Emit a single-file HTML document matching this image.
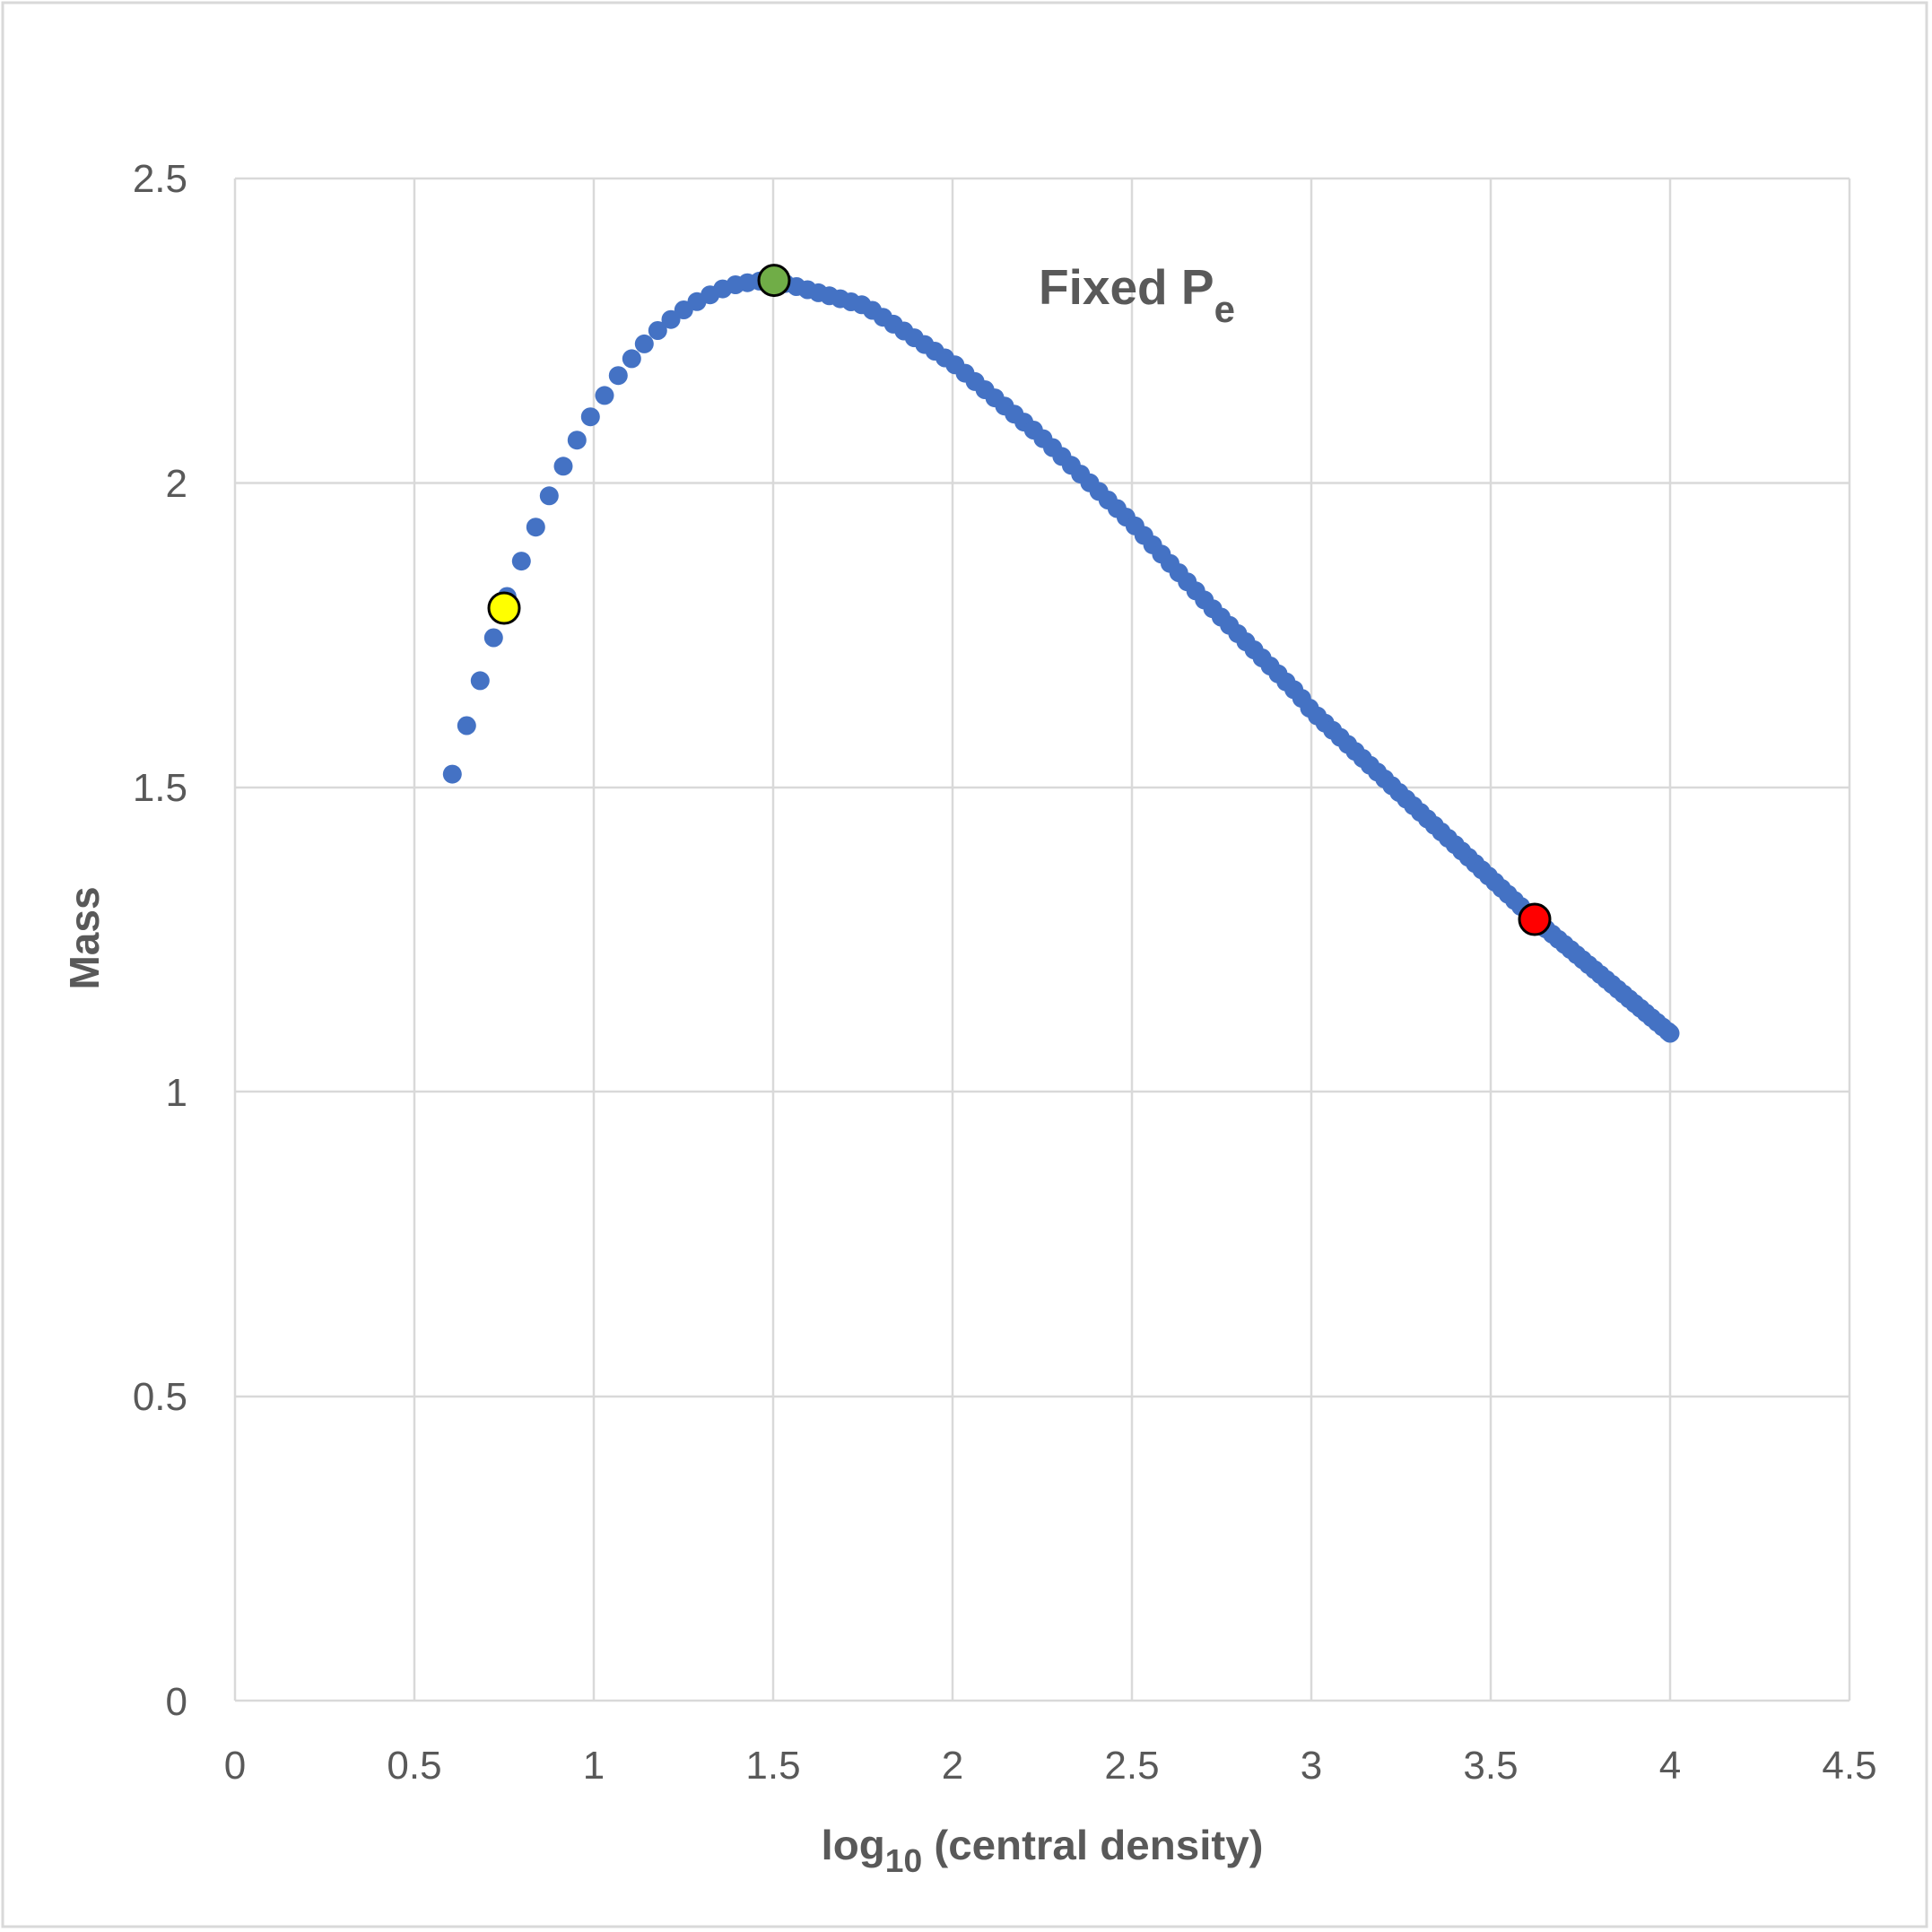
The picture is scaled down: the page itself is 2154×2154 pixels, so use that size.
<!DOCTYPE html>
<html><head><meta charset="utf-8"><style>
html,body{margin:0;padding:0;background:#fff;}
svg{display:block;}
text{font-family:"Liberation Sans",sans-serif;fill:#595959;}
</style></head><body>
<svg id="s" width="2154" height="2154" viewBox="0 0 2154 2154" xmlns="http://www.w3.org/2000/svg">
<rect x="3" y="3" width="2145" height="2145" fill="#fff" stroke="#d9d9d9" stroke-width="3"/>
<g stroke="#d9d9d9" stroke-width="2.5">
<line x1="262" y1="199" x2="2062" y2="199"/>
<line x1="262" y1="538.5" x2="2062" y2="538.5"/>
<line x1="262" y1="878" x2="2062" y2="878"/>
<line x1="262" y1="1217" x2="2062" y2="1217"/>
<line x1="262" y1="1557" x2="2062" y2="1557"/>
<line x1="262" y1="1896" x2="2062" y2="1896"/>
<line x1="262" y1="199" x2="262" y2="1896"/>
<line x1="462" y1="199" x2="462" y2="1896"/>
<line x1="662" y1="199" x2="662" y2="1896"/>
<line x1="862" y1="199" x2="862" y2="1896"/>
<line x1="1062" y1="199" x2="1062" y2="1896"/>
<line x1="1262" y1="199" x2="1262" y2="1896"/>
<line x1="1462" y1="199" x2="1462" y2="1896"/>
<line x1="1662" y1="199" x2="1662" y2="1896"/>
<line x1="1862" y1="199" x2="1862" y2="1896"/>
<line x1="2062" y1="199" x2="2062" y2="1896"/>
</g>
<g font-size="44" text-anchor="end">
<text x="209" y="214">2.5</text>
<text x="209" y="554">2</text>
<text x="209" y="893">1.5</text>
<text x="209" y="1233">1</text>
<text x="209" y="1572">0.5</text>
<text x="209" y="1912">0</text>
</g>
<g font-size="44" text-anchor="middle">
<text x="262" y="1983">0</text>
<text x="462" y="1983">0.5</text>
<text x="662" y="1983">1</text>
<text x="862" y="1983">1.5</text>
<text x="1062" y="1983">2</text>
<text x="1262" y="1983">2.5</text>
<text x="1462" y="1983">3</text>
<text x="1662" y="1983">3.5</text>
<text x="1862" y="1983">4</text>
<text x="2062" y="1983">4.5</text>
</g>
<text x="1162" y="2073" font-size="46" font-weight="bold" text-anchor="middle" textLength="493" lengthAdjust="spacingAndGlyphs">log<tspan font-size="36" dy="14">10</tspan><tspan dy="-14"> (central density)</tspan></text>
<text transform="translate(110,1046) rotate(-90)" font-size="46" font-weight="bold" text-anchor="middle">Mass</text>
<text x="1158" y="339" font-size="55" font-weight="bold">Fixed P<tspan font-size="42" dy="20">e</tspan></text>
<g id="dots" fill="#4472C4"></g>
<circle cx="562" cy="678" r="17" fill="#ffff00" stroke="#000" stroke-width="3"/>
<circle cx="863" cy="312.6" r="17" fill="#70AD47" stroke="#000" stroke-width="3"/>
<circle cx="1711" cy="1025" r="17" fill="#ff0000" stroke="#000" stroke-width="3"/>
</svg>
<script>
var L=[[504.3,863.1],[520.3,809.0],[535.3,758.9],[550.3,711.0],[565.3,665],[581.3,625.6],[597.3,587.7],[612.3,552.8],[628,519.8],[643.3,490.7],[658.3,464.7],[674,440.9],[689.3,418.7],[704.3,399.9],[718.3,383.4],[733.3,368.5],[748,356.2],[762.3,345.5],[777,336.3],[791.7,328.7],[805.7,322.1],[820,317.5],[833.3,315.2],[846.7,313.4]];
var R=[[863,312.6],[965,341],[1062,404.5],[1156.5,483],[1262,582.7],[1348,674.6],[1447.7,774],[1462,792],[1662,979],[1711,1025],[1862,1152]];
function f(x){for(var i=0;i<R.length-1;i++){if(x<=R[i+1][0]){var t=(x-R[i][0])/(R[i+1][0]-R[i][0]);return R[i][1]+t*(R[i+1][1]-R[i][1]);}}return R[R.length-1][1];}
var h='';
L.forEach(function(p){h+='<circle cx="'+p[0]+'" cy="'+p[1]+'" r="10.5"/>';});
var x=863;
while(x<=1862.01){h+='<circle cx="'+x.toFixed(1)+'" cy="'+f(x).toFixed(1)+'" r="10.5"/>';x+=12.5-(x-863)*0.0065;}
h+='<circle cx="1862" cy="1152" r="10.5"/>';
document.getElementById('dots').innerHTML=h;
</script>
</body></html>
